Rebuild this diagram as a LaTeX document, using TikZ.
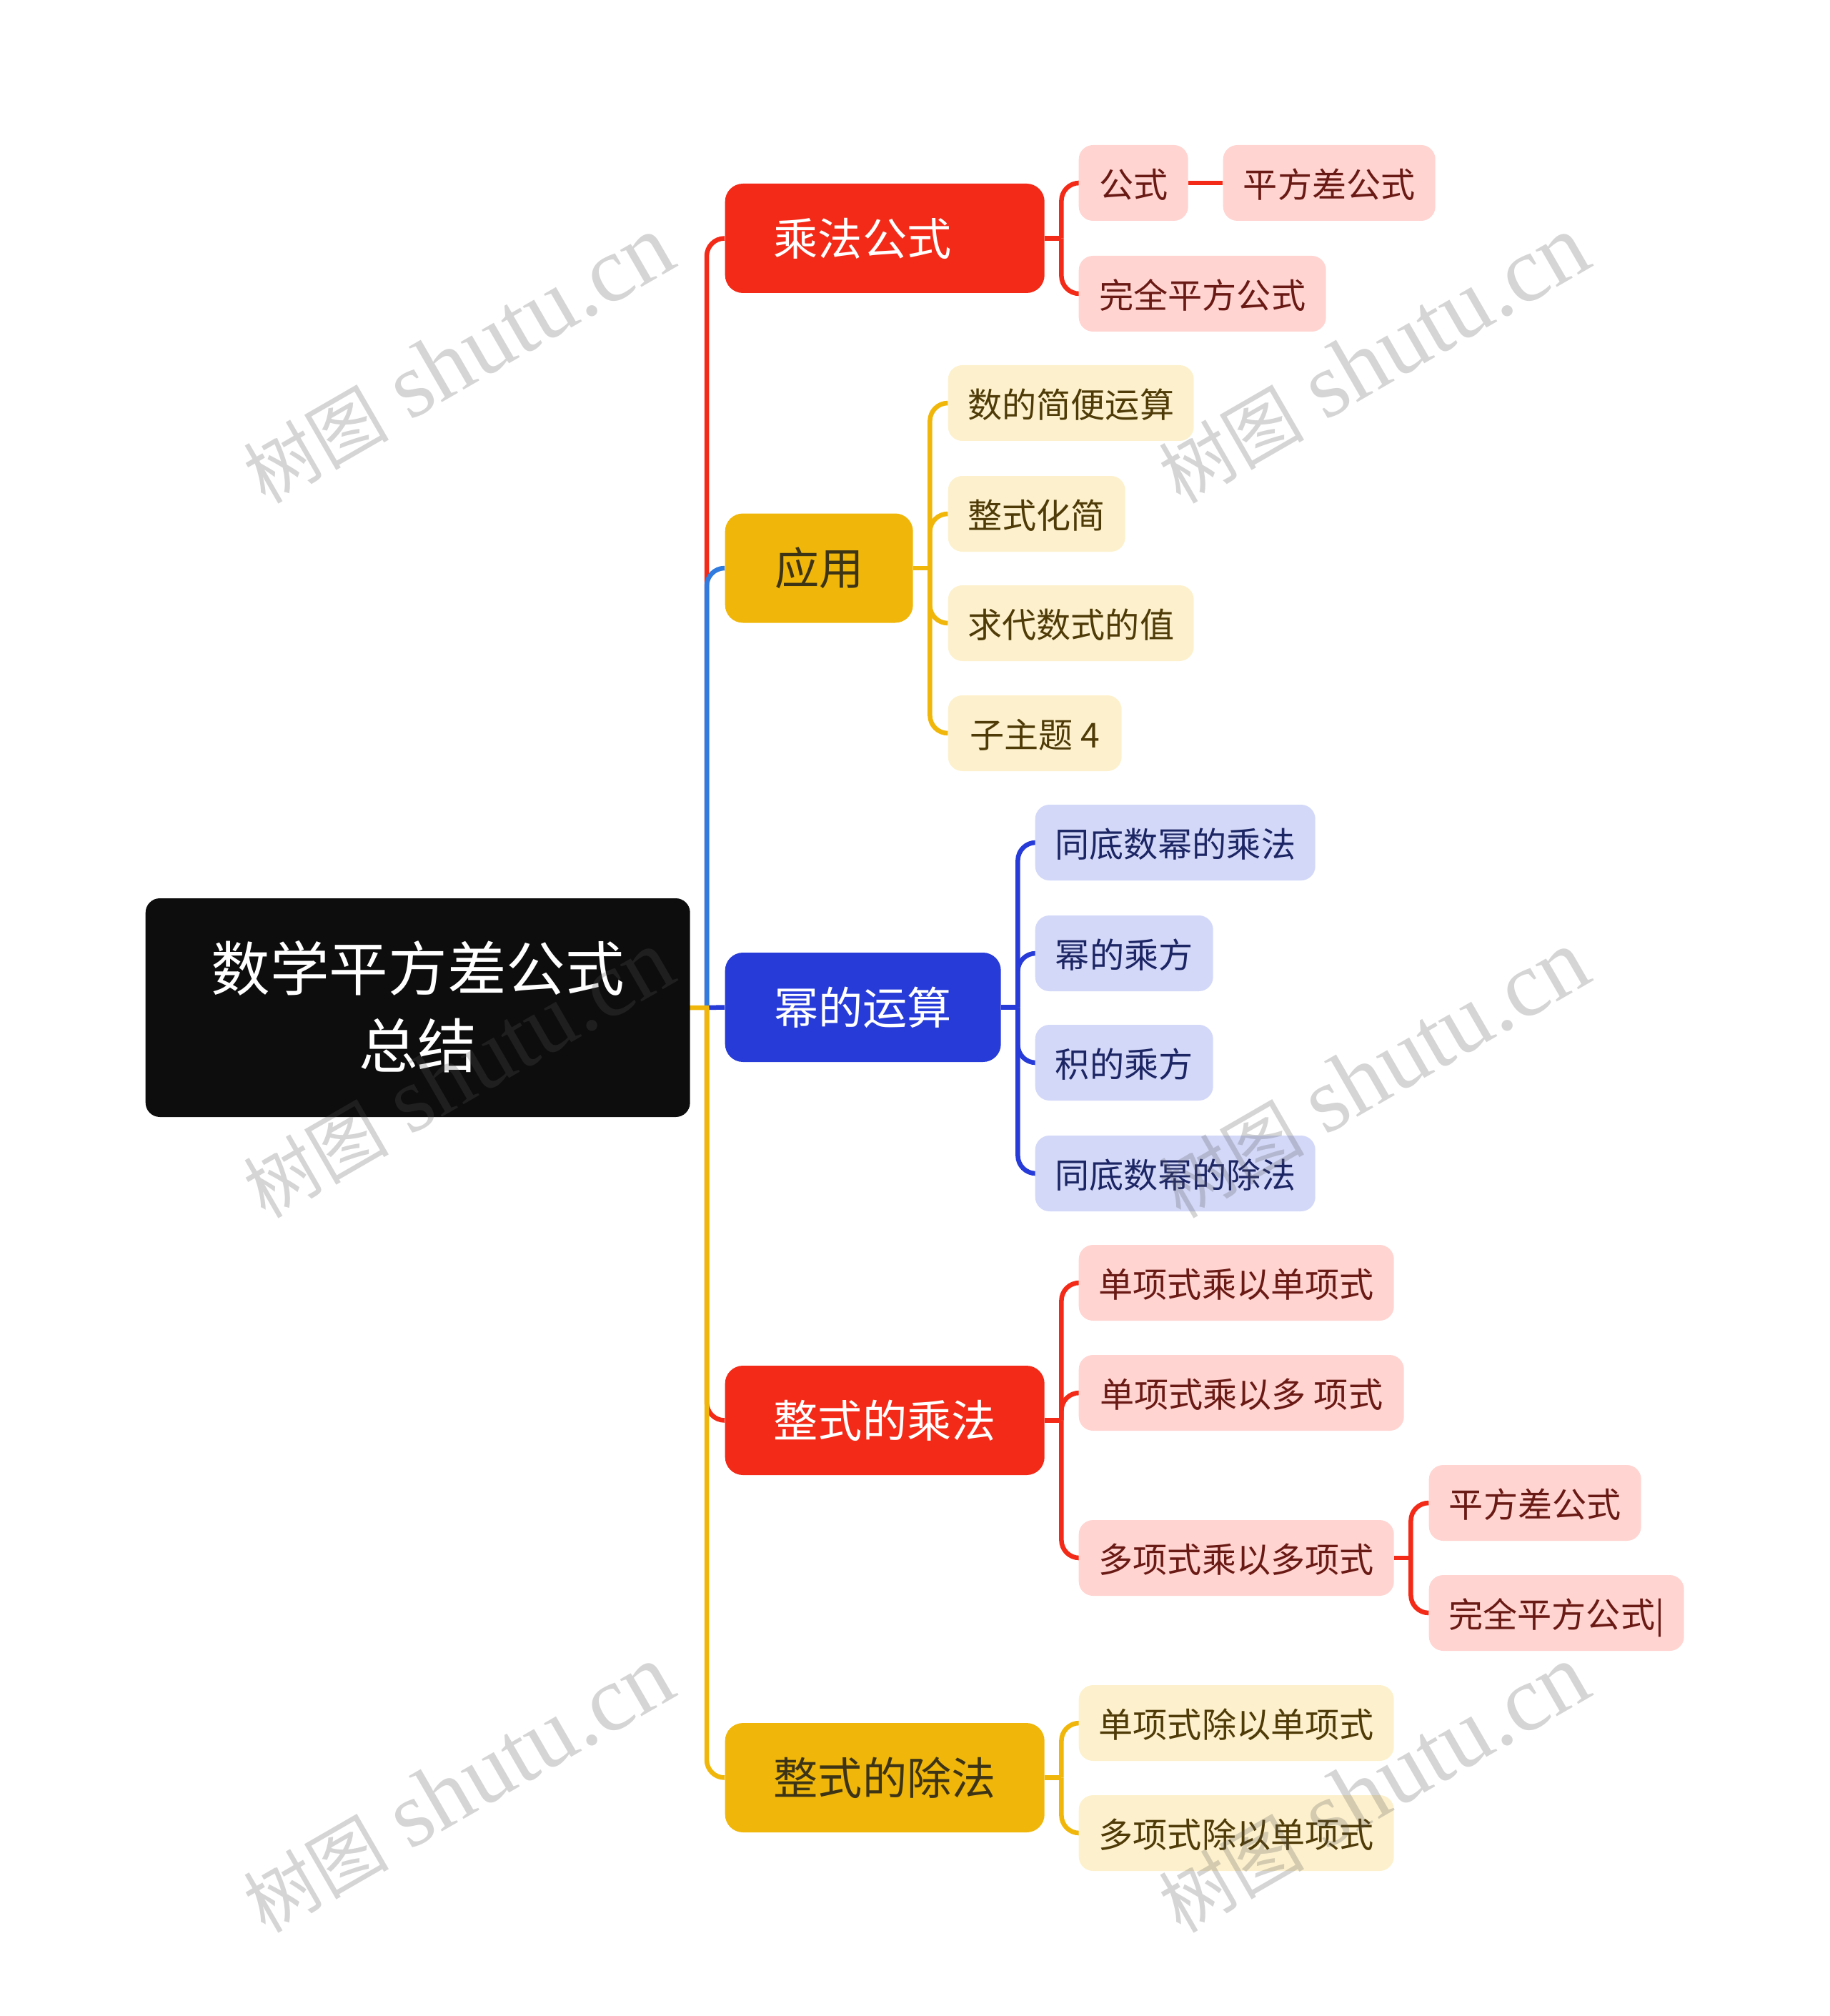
\documentclass[tikz,border=0pt]{standalone}
\usepackage{fontspec}
\setmainfont{Noto Sans CJK SC}
\newfontfamily\markfont{Liberation Serif}
\usetikzlibrary{backgrounds}
\definecolor{rootblack}{HTML}{0D0D0D}
\definecolor{mainred}{HTML}{F32A17}
\definecolor{mainyellow}{HTML}{F0B70A}
\definecolor{mainblue}{HTML}{263BD8}
\definecolor{lightblue}{HTML}{2F7BDF}
\definecolor{leafred}{HTML}{FFD4D1}
\definecolor{leafyellow}{HTML}{FDF1CD}
\definecolor{leafblue}{HTML}{D3D8F8}
\definecolor{inkyellow}{HTML}{3D3416}
\definecolor{inkleafred}{HTML}{6A1A15}
\definecolor{inkleafyellow}{HTML}{4F3B08}
\definecolor{inkleafblue}{HTML}{1D2665}
\newcommand{\marktext}{{\fontsize{29}{38}\selectfont 树图} {\markfont shutu.cn}}
\tikzstyle{box} = [rectangle, anchor = west, inner xsep = 0pt, inner ysep = 0pt]
\tikzstyle{rootbox} = [box, rounded corners = 0.2cm, minimum width = 7.62cm, minimum height = 3.06cm, fill = rootblack, text = white, align = center, text depth = 0.09cm, font = \fontsize{23.5}{30.7}\selectfont]
\tikzstyle{mainbox} = [box, rounded corners = 0.25cm, minimum height = 1.53cm, font = \fontsize{17.7}{21}\selectfont]
\tikzstyle{leafbox} = [box, rounded corners = 0.2cm, minimum height = 1.06cm, text height = 0.46cm, text depth = 0.05cm, font = \fontsize{13.7}{16}\selectfont]
\tikzstyle{mainr} = [mainbox, fill = mainred, text = white]
\tikzstyle{mainy} = [mainbox, fill = mainyellow, text = inkyellow]
\tikzstyle{mainb} = [mainbox, fill = mainblue, text = white]
\tikzstyle{leafr} = [leafbox, fill = leafred, text = inkleafred]
\tikzstyle{leafy} = [leafbox, fill = leafyellow, text = inkleafyellow]
\tikzstyle{leafb} = [leafbox, fill = leafblue, text = inkleafblue]
\tikzstyle{link} = [line width = 0.065cm, rounded corners = 0.25cm]
\tikzstyle{watermark} = [rotate = 30, text = black!66, text opacity = 0.25, font = \fontsize{37}{40}\selectfont]
\begin{document}
\begin{tikzpicture}
\useasboundingbox (0, 0) rectangle (25.6, -28.21);

\node (root) [rootbox, xshift = 2.03cm, yshift = -14.1cm] {数学平方差公式\\总结};

\node (chengfa) [mainr, xshift = 10.14cm, yshift = -3.335cm, minimum width = 4.47cm, inner xsep = 0.68cm, text width = 3.11cm, align = left] {乘法公式};
\node (yingyong) [mainy, xshift = 10.14cm, yshift = -7.95cm, minimum width = 2.63cm] {应用};
\node (mi) [mainb, xshift = 10.14cm, yshift = -14.095cm, minimum width = 3.86cm] {幂的运算};
\node (zcheng) [mainr, xshift = 10.14cm, yshift = -19.875cm, minimum width = 4.47cm] {整式的乘法};
\node (zchu) [mainy, xshift = 10.14cm, yshift = -24.875cm, minimum width = 4.47cm] {整式的除法};

\node (gongshi) [leafr, xshift = 15.09cm, yshift = -2.56cm, minimum width = 1.53cm] {公式};
\node (pingfang) [leafr, xshift = 17.11cm, yshift = -2.56cm, minimum width = 2.97cm] {平方差公式};
\node (wanquan) [leafr, xshift = 15.09cm, yshift = -4.11cm, minimum width = 3.46cm] {完全平方公式};

\node (jianbian) [leafy, xshift = 13.26cm, yshift = -5.64cm, minimum width = 3.44cm] {数的简便运算};
\node (huajian) [leafy, xshift = 13.26cm, yshift = -7.19cm, minimum width = 2.48cm] {整式化简};
\node (qiuzhi) [leafy, xshift = 13.26cm, yshift = -8.72cm, minimum width = 3.44cm] {求代数式的值};
\node (zizhuti) [leafy, xshift = 13.26cm, yshift = -10.26cm, minimum width = 2.43cm] {子主题 4};

\node (micheng) [leafb, xshift = 14.48cm, yshift = -11.79cm, minimum width = 3.92cm] {同底数幂的乘法};
\node (michengfang) [leafb, xshift = 14.48cm, yshift = -13.34cm, minimum width = 2.49cm] {幂的乘方};
\node (jicheng) [leafb, xshift = 14.48cm, yshift = -14.87cm, minimum width = 2.49cm] {积的乘方};
\node (michu) [leafb, xshift = 14.48cm, yshift = -16.42cm, minimum width = 3.92cm] {同底数幂的除法};

\node (dandan) [leafr, xshift = 15.09cm, yshift = -17.95cm, minimum width = 4.41cm] {单项式乘以单项式};
\node (danduo) [leafr, xshift = 15.09cm, yshift = -19.49cm, minimum width = 4.55cm] {单项式乘以多 项式};
\node (duoduo) [leafr, xshift = 15.09cm, yshift = -21.8cm, minimum width = 4.41cm] {多项式乘以多项式};
\node (pingfangb) [leafr, xshift = 19.99cm, yshift = -21.03cm, minimum width = 2.97cm] {平方差公式};
\node (wanquanb) [leafr, xshift = 19.99cm, yshift = -22.57cm, minimum width = 3.57cm] {完全平方公式|};

\node (chudan) [leafy, xshift = 15.09cm, yshift = -24.11cm, minimum width = 4.41cm] {单项式除以单项式};
\node (duochu) [leafy, xshift = 15.09cm, yshift = -25.65cm, minimum width = 4.41cm] {多项式除以单项式};

\coordinate (spine) at (9.89, -14.1);
\coordinate [xshift = 0.23cm] (cfjoin) at (chengfa.east);
\coordinate [xshift = 0.23cm] (yyjoin) at (yingyong.east);
\coordinate [xshift = 0.23cm] (mijoin) at (mi.east);
\coordinate [xshift = 0.23cm] (zcjoin) at (zcheng.east);
\coordinate [xshift = 0.23cm] (zdjoin) at (zchu.east);
\coordinate [xshift = 0.23cm] (ddjoin) at (duoduo.east);

\begin{scope}[on background layer]
\draw[link, mainred] (spine) |- (chengfa.west);
\draw[link, lightblue] (spine) |- (yingyong.west);
\draw[link, mainblue] (spine) -- (mi.west);
\draw[link, mainred] (spine) |- (zcheng.west);
\draw[link, mainyellow] (spine) |- (zchu.west);
\draw[link, mainyellow, line cap = rect] (root.east) -- (spine);

\draw[link, mainred] (chengfa.east) -- (cfjoin);
\draw[link, mainred] (cfjoin) |- (gongshi.west);
\draw[link, mainred] (cfjoin) |- (wanquan.west);
\draw[link, mainred] (gongshi.east) -- (pingfang.west);

\draw[link, mainyellow] (yingyong.east) -- (yyjoin);
\draw[link, mainyellow] (yyjoin) |- (jianbian.west);
\draw[link, mainyellow] (yyjoin) |- (huajian.west);
\draw[link, mainyellow] (yyjoin) |- (qiuzhi.west);
\draw[link, mainyellow] (yyjoin) |- (zizhuti.west);

\draw[link, mainblue] (mi.east) -- (mijoin);
\draw[link, mainblue] (mijoin) |- (micheng.west);
\draw[link, mainblue] (mijoin) |- (michengfang.west);
\draw[link, mainblue] (mijoin) |- (jicheng.west);
\draw[link, mainblue] (mijoin) |- (michu.west);

\draw[link, mainred] (zcheng.east) -- (zcjoin);
\draw[link, mainred] (zcjoin) |- (dandan.west);
\draw[link, mainred] (zcjoin) |- (danduo.west);
\draw[link, mainred] (zcjoin) |- (duoduo.west);

\draw[link, mainred] (duoduo.east) -- (ddjoin);
\draw[link, mainred] (ddjoin) |- (pingfangb.west);
\draw[link, mainred] (ddjoin) |- (wanquanb.west);

\draw[link, mainyellow] (zchu.east) -- (zdjoin);
\draw[link, mainyellow] (zdjoin) |- (chudan.west);
\draw[link, mainyellow] (zdjoin) |- (duochu.west);
\end{scope}

\node (mark1) [watermark] at (6.41, -5.03) {\marktext};
\node (mark2) [watermark] at (19.22, -5.03) {\marktext};
\node (mark3) [watermark] at (6.41, -15.03) {\marktext};
\node (mark4) [watermark] at (19.22, -15.03) {\marktext};
\node (mark5) [watermark] at (6.41, -25.03) {\marktext};
\node (mark6) [watermark] at (19.22, -25.03) {\marktext};
\end{tikzpicture}
\end{document}
